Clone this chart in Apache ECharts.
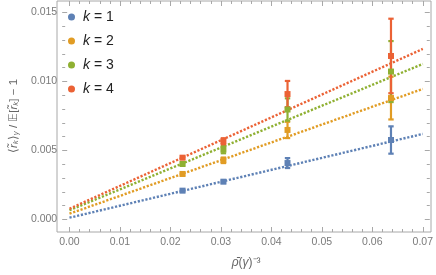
<!DOCTYPE html>
<html>
<head>
<meta charset="utf-8">
<script src="https://cdn.jsdelivr.net/npm/echarts@6/dist/echarts.min.js"></script>
<style>html,body{margin:0;padding:0;background:#fff}#c{width:436px;height:275px}</style>
</head>
<body>
<div id="c"></div>
<script>
// ---- data ----
var names = ['k = 1', 'k = 2', 'k = 3', 'k = 4'];
var colors = ['#5E81B5', '#E19C24', '#8FB032', '#EB6235'];
var xs = [0.0224, 0.0305, 0.0432, 0.0637];
var k1 = [0.00209, 0.00274, 0.00409, 0.00576];
var k2 = [0.00330, 0.00429, 0.00649, 0.00880];
var k3 = [0.00402, 0.00507, 0.00797, 0.01072];
var k4 = [0.00448, 0.00567, 0.00909, 0.01185];
var e1 = [0.00008, 0.00008, 0.00036, 0.00099];
var e2 = [0.00010, 0.00020, 0.00059, 0.00155];
var e3 = [0.00010, 0.00027, 0.00081, 0.00221];
var e4 = [0.00010, 0.00022, 0.00095, 0.00270];
// fitted lines: value at x = 0 and at x = 0.07
var fitX = [0, 0.07];
var fit1 = [0.00013, 0.00620];
var fit2 = [0.00042, 0.00946];
var fit3 = [0.00067, 0.01127];
var fit4 = [0.00078, 0.01236];
var xTicks = {min: 0, max: 0.07, interval: 0.01};
var yTicks = {min: 0, max: 0.015, interval: 0.005};

var vals = [k1, k2, k3, k4];
var errs = [e1, e2, e3, e4];
var fits = [fit1, fit2, fit3, fit4];

var frameColor = '#a8a8a8';
var labelColor = '#7a7a7a';
var font = 'Liberation Sans';

function axisCommon(extra) {
  var o = {
    gridIndex: 1, type: 'value',
    axisLine: {show: false, onZero: false},
    axisTick: {show: true, inside: true, length: 5, lineStyle: {color: frameColor, width: 1}},
    minorTick: {show: true, splitNumber: 5, length: 3, lineStyle: {color: frameColor, width: 1}},
    splitLine: {show: false},
    minorSplitLine: {show: false}
  };
  for (var k in extra) o[k] = extra[k];
  return o;
}

var series = [];
// fit lines (under points)
for (var i = 0; i < 4; i++) {
  series.push({
    type: 'line', name: names[i], xAxisIndex: 1, yAxisIndex: 1,
    data: [[fitX[0], fits[i][0]], [fitX[1], fits[i][1]]],
    showSymbol: false, symbol: 'none', silent: true,
    lineStyle: {color: colors[i], width: 2.4, type: [2.2, 1.7]},
    z: 2
  });
}
for (var i = 0; i < 4; i++) {
  var d = xs.map(function (x, j) { return [x, vals[i][j], errs[i][j]]; });
  series.push({
    type: 'custom', name: names[i], xAxisIndex: 1, yAxisIndex: 1,
    data: d, clip: false, z: 3,
    itemStyle: {color: colors[i]},
    renderItem: (function (col) {
      return function (params, api) {
        var x = api.value(0), y = api.value(1), e = api.value(2);
        var top = api.coord([x, y + e]);
        var bot = api.coord([x, y - e]);
        var cw = 2.7;
        var st = {stroke: col, lineWidth: 2.2};
        return {type: 'group', children: [
          {type: 'line', shape: {x1: top[0], y1: top[1], x2: bot[0], y2: bot[1]}, style: st},
          {type: 'line', shape: {x1: top[0] - cw, y1: top[1], x2: top[0] + cw, y2: top[1]}, style: st},
          {type: 'line', shape: {x1: bot[0] - cw, y1: bot[1], x2: bot[0] + cw, y2: bot[1]}, style: st}
        ]};
      };
    })(colors[i])
  });
  series.push({
    type: 'scatter', name: names[i], xAxisIndex: 1, yAxisIndex: 1,
    data: xs.map(function (x, j) { return [x, vals[i][j]]; }),
    symbol: 'rect', symbolSize: 6, z: 4,
    itemStyle: {color: colors[i], opacity: 1}
  });
}

var chart = echarts.init(document.getElementById('c'), null, {renderer: 'canvas'});
chart.setOption({
  animation: false,
  backgroundColor: '#ffffff',
  textStyle: {fontFamily: font},
  color: colors,
  grid: [
    {left: 57, top: 1, right: 5, bottom: 43, show: true, borderColor: frameColor, borderWidth: 1, backgroundColor: 'transparent'},
    {left: 64.3, top: 12.5, right: 12, bottom: 55.5}
  ],
  legend: {
    data: names.map(function (n) { return {name: n, icon: 'circle'}; }),
    orient: 'vertical', left: 63, top: 5,
    itemWidth: 7, itemHeight: 7, itemGap: 10,
    formatter: function (n) { return '{i|k} = ' + n.split('= ')[1]; },
    textStyle: {fontSize: 14, color: '#222', fontFamily: font, padding: [0, 0, 0, 3],
      rich: {i: {fontStyle: 'italic', fontSize: 14, fontFamily: font, color: '#222'}}}
  },
  xAxis: [
    {gridIndex: 0, show: false, type: 'value', min: 0, max: 1},
    axisCommon({position: 'bottom', offset: 12.5, min: xTicks.min, max: xTicks.max, interval: xTicks.interval,
      axisLabel: {show: true, margin: 5, color: labelColor, fontSize: 10.5, fontFamily: font,
        formatter: function (v) { return v.toFixed(2); }},
      name: '{b|ρ̄}({b|γ})⁻³', nameLocation: 'middle', nameGap: 25,
      nameTextStyle: {fontSize: 12, color: '#666', fontFamily: font,
        rich: {b: {fontStyle: 'italic', fontSize: 12, color: '#666', fontFamily: font}}}
    }),
    axisCommon({position: 'top', offset: 11.5, min: xTicks.min, max: xTicks.max, interval: xTicks.interval,
      axisLabel: {show: false}})
  ],
  yAxis: [
    {gridIndex: 0, show: false, type: 'value', min: 0, max: 1},
    axisCommon({position: 'left', offset: 7.3, min: yTicks.min, max: yTicks.max, interval: yTicks.interval,
      axisLabel: {show: true, margin: 5, color: labelColor, fontSize: 10.5, fontFamily: font,
        formatter: function (v) { return v.toFixed(3); }},
      name: '⟨{b|r̃}{s|k}⟩{s|γ} / 𝔼[{b|r̃}{s|k}] − 1', nameLocation: 'middle', nameGap: 37, nameRotate: 90,
      nameTextStyle: {fontSize: 11.5, color: '#666', fontFamily: font,
        rich: {b: {fontStyle: 'italic', fontSize: 11.5, color: '#666', fontFamily: font},
               s: {fontStyle: 'italic', fontSize: 8, color: '#666', fontFamily: font, verticalAlign: 'bottom'}}}
    }),
    axisCommon({position: 'right', offset: 7, min: yTicks.min, max: yTicks.max, interval: yTicks.interval,
      axisLabel: {show: false}})
  ],
  series: series
});
</script>
</body>
</html>
